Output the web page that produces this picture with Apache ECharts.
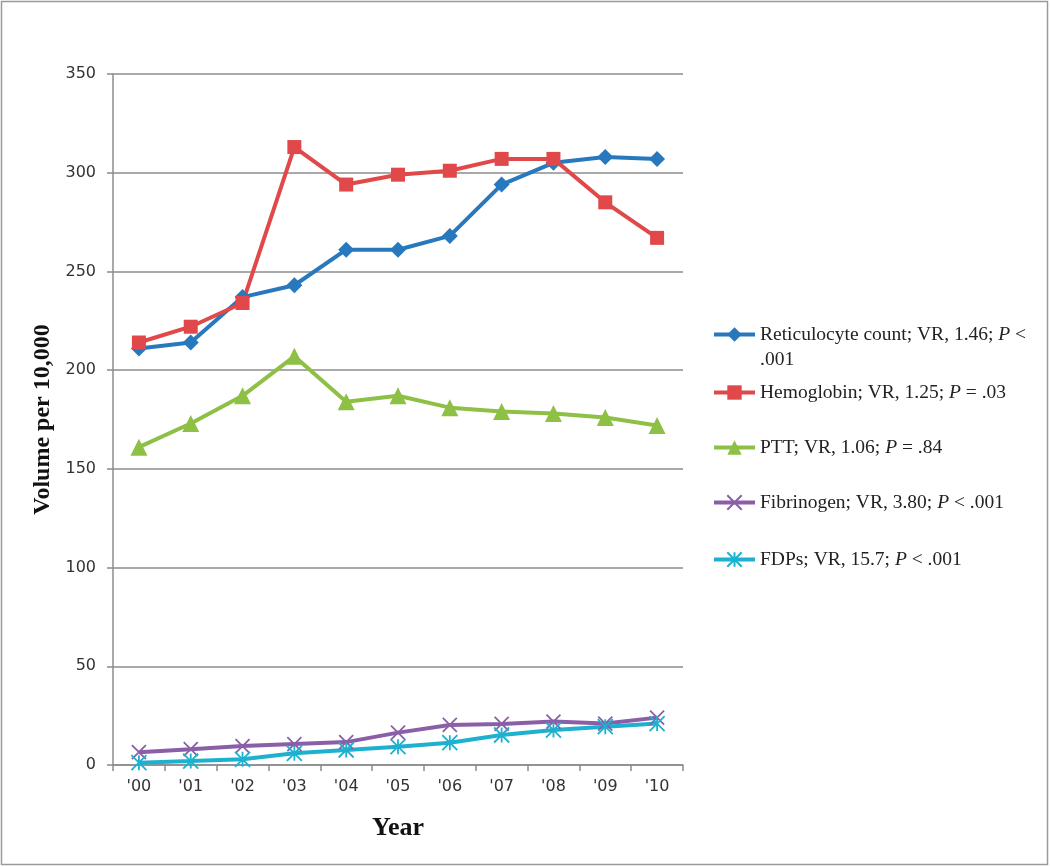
<!DOCTYPE html>
<html><head><meta charset="utf-8">
<script src="https://cdn.jsdelivr.net/npm/echarts@6/dist/echarts.min.js"></script>
<style>html,body{margin:0;padding:0;background:#fff}#c{width:1050px;height:867px}</style>
</head><body><div id="c"></div>
<script>
const years = ["'00","'01","'02","'03","'04","'05","'06","'07","'08","'09","'10"];
const reticulocyte = [211, 214, 237, 243, 261, 261, 268, 294, 305, 308, 307];
const hemoglobin   = [214, 222, 234, 313, 294, 299, 301, 307, 307, 285, 267];
const ptt          = [161, 173, 187, 207, 184, 187, 181, 179, 178, 176, 172];
const fibrinogen   = [6.5, 8, 9.6, 10.6, 11.6, 16.4, 20.3, 20.8, 22, 21, 24];
const fdps         = [1.2, 2, 2.9, 5.9, 7.6, 9.3, 11.3, 15.2, 17.7, 19.4, 21];
const yTicks = {min: 0, max: 350, interval: 50};
const names = [
  "Reticulocyte count; VR, 1.46; P < .001",
  "Hemoglobin; VR, 1.25; P = .03",
  "PTT; VR, 1.06; P = .84",
  "Fibrinogen; VR, 3.80; P < .001",
  "FDPs; VR, 15.7; P < .001"
];
const richNames = [
  "{t| }\n{t|Reticulocyte count; VR, 1.46; }{i|P}{t| <}\n{t|.001}",
  "{t|Hemoglobin; VR, 1.25; }{i|P}{t| = .03}",
  "{t|PTT; VR, 1.06; }{i|P}{t| = .84}",
  "{t|Fibrinogen; VR, 3.80; }{i|P}{t| < .001}",
  "{t|FDPs; VR, 15.7; }{i|P}{t| < .001}"
];
const colors = ['#2878BE', '#E0484A', '#8DC045', '#8A5FA8', '#1EB0CF'];
const symbols = ['diamond', 'rect', 'triangle',
  'path://M0,0L10,10M10,0L0,10',
  'path://M5,0L5,10M0,0L10,10M10,0L0,10'];
const symSizes = [16, 14, 17, 14, 15];
const dataSets = [reticulocyte, hemoglobin, ptt, fibrinogen, fdps];
const legendTops = [297, 380, 435, 490, 547];

const chart = echarts.init(document.getElementById('c'), null, {renderer: 'canvas'});
const rich = {
  t: {fontFamily: 'Liberation Serif', fontSize: 19.5, color: '#222', lineHeight: 25},
  i: {fontFamily: 'Liberation Serif', fontSize: 19.5, fontStyle: 'italic', color: '#222', lineHeight: 25}
};
const legends = names.map((n, k) => ({
  data: [n], left: 712, top: legendTops[k], padding: 0,
  itemWidth: 41, itemHeight: 18, itemGap: 4,
  lineStyle: {width: 4},
  formatter: () => richNames[k],
  textStyle: {rich: rich, lineHeight: 25, fontSize: 19.5, fontFamily: 'Liberation Serif'}
}));
const series = names.map((n, k) => ({
  name: n, type: 'line', data: dataSets[k],
  symbol: symbols[k], symbolSize: symSizes[k],
  lineStyle: {color: colors[k], width: 4},
  itemStyle: {color: colors[k], borderColor: colors[k], borderWidth: k >= 3 ? 1.8 : 0},
  emphasis: {disabled: true}
}));
chart.setOption({
  animation: false,
  backgroundColor: '#fff',
  graphic: [{type: 'rect', shape: {x: 1.5, y: 1.5, width: 1046, height: 863},
    style: {fill: 'none', stroke: '#9a9a9a', lineWidth: 1.5}, silent: true}],
  grid: {left: 113, right: 367, top: 74, bottom: 102},
  legend: legends,
  xAxis: {
    type: 'category', data: years, boundaryGap: true,
    name: 'Year', nameLocation: 'middle', nameGap: 50,
    nameTextStyle: {fontFamily: 'Liberation Serif', fontWeight: 'bold', fontSize: 26, color: '#111'},
    axisLine: {lineStyle: {color: '#8c8c8c', width: 1.5}},
    axisTick: {show: true, interval: 0, length: 6, lineStyle: {color: '#8c8c8c', width: 1.5}},
    axisLabel: {interval: 0, margin: 14, fontFamily: 'DejaVu Sans', fontSize: 16, color: '#333'}
  },
  yAxis: {
    type: 'value', min: yTicks.min, max: yTicks.max, interval: yTicks.interval,
    name: 'Volume per 10,000', nameLocation: 'middle', nameGap: 48,
    nameTextStyle: {fontFamily: 'Liberation Serif', fontWeight: 'bold', fontSize: 24, color: '#111'},
    axisLine: {show: true, lineStyle: {color: '#8c8c8c', width: 1.5}},
    axisTick: {show: true, length: 6, lineStyle: {color: '#8c8c8c', width: 1.5}},
    splitLine: {lineStyle: {color: '#8c8c8c', width: 1.5}},
    axisLabel: {margin: 17, fontFamily: 'DejaVu Sans', fontSize: 16, color: '#333'}
  },
  series: series
});
</script></body></html>
